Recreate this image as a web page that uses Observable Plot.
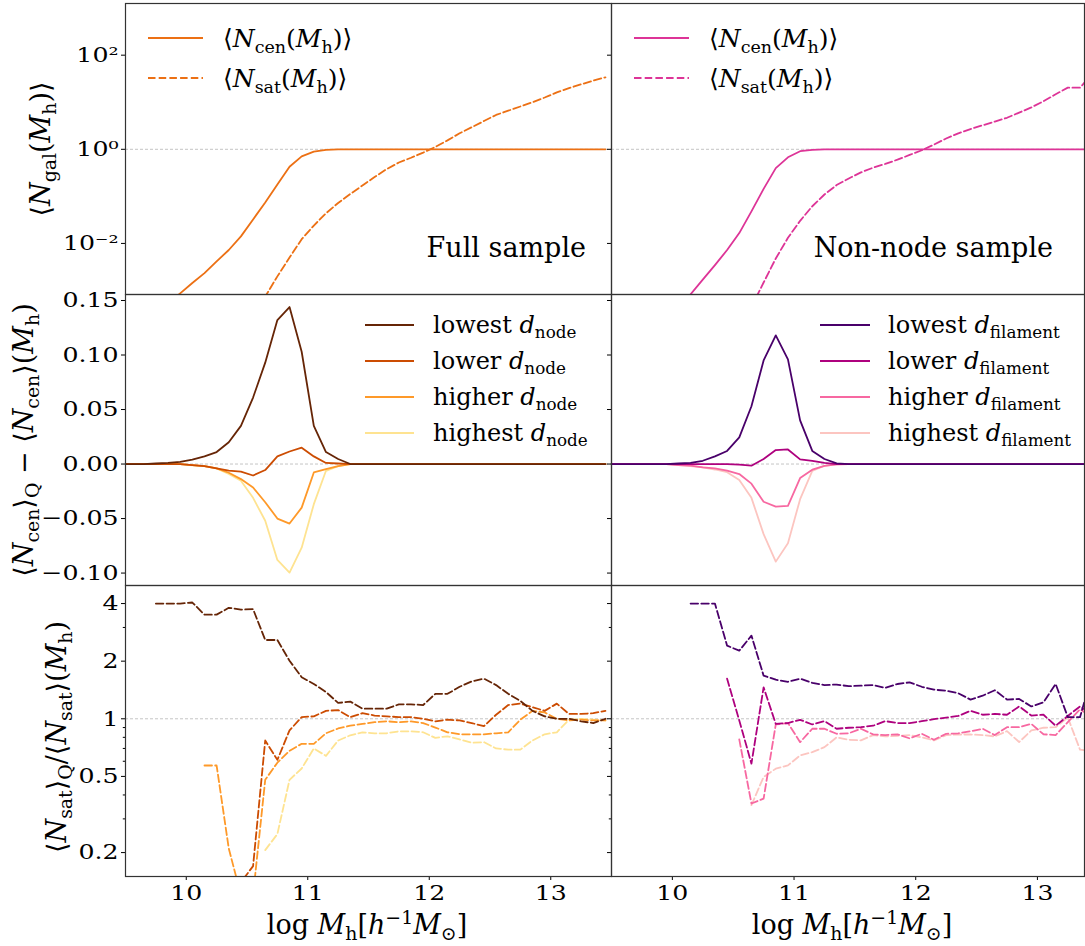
<!DOCTYPE html>
<html><head><meta charset="utf-8">
<script src="https://cdn.jsdelivr.net/npm/d3@7"></script>
<script src="https://cdn.jsdelivr.net/npm/@observablehq/plot@0.6"></script>
<style>
body{margin:0;background:#fff;}
#wrap{position:relative;width:1085px;height:946px;overflow:hidden;background:#fff;}
#wrap svg{position:absolute;overflow:visible;}
</style></head><body><div id="wrap"></div>
<script>
// ---------- data (bin centres of log halo mass) ----------
const mass = [9.45,9.55,9.65,9.75,9.85,9.95,10.05,10.15,10.25,10.35,10.45,10.55,10.65,10.75,10.85,10.95,11.05,11.15,11.25,11.35,11.45,11.55,11.65,11.75,11.85,11.95,12.05,12.15,12.25,12.35,12.45,12.55,12.65,12.75,12.85,12.95,13.05,13.15,13.25,13.35,13.45];

// top row: log10 <N_cen>, log10 <N_sat>
const logNcenFull = [null,null,null,null,-3.28,-3.06,-2.84,-2.63,-2.38,-2.14,-1.85,-1.49,-1.13,-0.75,-0.37,-0.15,-0.05,-0.012,-0.003,0,0,0,0,0,0,0,0,0,0,0,0,0,0,0,0,0,0,0,0,0,0];
const logNsatFull = [null,null,null,null,null,null,null,null,null,null,null,-3.55,-3.13,-2.70,-2.30,-1.91,-1.62,-1.36,-1.14,-0.95,-0.77,-0.59,-0.42,-0.28,-0.18,-0.07,0.05,0.19,0.34,0.47,0.60,0.73,0.82,0.91,1.0,1.1,1.21,1.30,1.38,1.46,1.53];
const logNcenNonNode = [null,null,null,null,null,null,-3.4,-3.08,-2.77,-2.46,-2.14,-1.78,-1.32,-0.84,-0.40,-0.17,-0.04,-0.01,-0.002,0,0,0,0,0,0,0,0,0,0,0,0,0,0,0,0,0,0,0,0,0,0];
const logNsatNonNode = [null,null,null,null,null,null,null,null,null,null,null,null,-3.35,-2.83,-2.32,-1.88,-1.52,-1.21,-0.96,-0.76,-0.62,-0.49,-0.39,-0.31,-0.22,-0.12,-0.02,0.10,0.23,0.34,0.43,0.51,0.59,0.67,0.78,0.89,1.02,1.17,1.31,1.31,1.6];

// middle row: <N_cen>_Q - <N_cen>
const cenNodeLowest  = [0,0,0,0.0005,0.001,0.002,0.004,0.007,0.011,0.02,0.035,0.061,0.093,0.132,0.144,0.103,0.035,0.011,0.0046,0,0,0,0,0,0,0,0,0,0,0,0,0,0,0,0,0,0,0,0,0,0];
const cenNodeLower   = [0,0,0,0,0,0,-0.001,-0.002,-0.004,-0.006,-0.007,-0.0105,-0.0055,0.007,0.0115,0.015,0.007,0.001,0.0005,0,0,0,0,0,0,0,0,0,0,0,0,0,0,0,0,0,0,0,0,0,0];
const cenNodeHigher  = [0,0,0,0,0,0,-0.001,-0.002,-0.004,-0.008,-0.0138,-0.0215,-0.035,-0.050,-0.0546,-0.040,-0.0077,-0.0046,-0.002,0,0,0,0,0,0,0,0,0,0,0,0,0,0,0,0,0,0,0,0,0,0];
const cenNodeHighest = [0,0,0,0,0,0,-0.0012,-0.002,-0.004,-0.009,-0.0153,-0.031,-0.052,-0.088,-0.0996,-0.0767,-0.0368,-0.0062,-0.002,0,0,0,0,0,0,0,0,0,0,0,0,0,0,0,0,0,0,0,0,0,0];
const cenFilLowest   = [0,0,0,0,0,0,0.0005,0.001,0.003,0.007,0.012,0.0245,0.053,0.095,0.118,0.096,0.040,0.012,0.0046,0.0006,0,0,0,0,0,0,0,0,0,0,0,0,0,0,0,0,0,0,0,0,0];
const cenFilLower    = [0,0,0,0,0,0,0,0,0,0,0,-0.0005,-0.0015,0.0046,0.0128,0.0134,0.0043,0.003,0.001,0,0,0,0,0,0,0,0,0,0,0,0,0,0,0,0,0,0,0,0,0,0];
const cenFilHigher   = [0,0,0,0,0,0,-0.001,-0.0015,-0.003,-0.004,-0.006,-0.0092,-0.018,-0.0346,-0.039,-0.0383,-0.0129,-0.0052,-0.0016,-0.0003,0,0,0,0,0,0,0,0,0,0,0,0,0,0,0,0,0,0,0,0,0];
const cenFilHighest  = [0,0,0,0,0,0,-0.001,-0.002,-0.003,-0.005,-0.0075,-0.0147,-0.031,-0.0643,-0.0895,-0.0726,-0.0322,-0.0062,-0.0016,-0.0003,0,0,0,0,0,0,0,0,0,0,0,0,0,0,0,0,0,0,0,0,0];

// bottom row: <N_sat>_Q / <N_sat>
const satNodeLowest  = [null,null,null,4.0,4.0,4.0,4.05,3.5,3.5,3.8,3.72,3.74,2.58,2.58,2.01,1.65,1.52,1.38,1.21,1.23,1.13,1.13,1.13,1.19,1.19,1.18,1.35,1.35,1.47,1.57,1.62,1.5,1.35,1.24,1.10,1.03,1.0,1.0,0.97,0.95,1.0];
const satNodeLower   = [null,null,null,null,null,null,null,null,null,0.09,0.14,0.17,0.77,0.61,0.87,1.02,1.03,1.10,1.11,1.02,1.07,1.04,1.03,1.02,1.02,1.0,0.97,0.99,0.98,0.95,0.915,1.05,1.18,1.2,1.15,1.1,1.2,1.06,1.06,1.07,1.1];
const satNodeHigher  = [null,null,null,null,null,null,null,0.57,0.57,0.21,0.12,0.12,0.48,0.59,0.68,0.74,0.74,0.84,0.89,0.92,0.94,0.96,0.97,0.96,0.97,0.95,0.9,0.85,0.83,0.83,0.83,0.84,0.85,0.99,1.1,1.08,1.0,0.98,0.99,0.98,0.98];
const satNodeHighest = [null,null,null,null,null,null,null,null,null,null,null,null,0.206,0.25,0.48,0.55,0.70,0.64,0.77,0.82,0.85,0.84,0.84,0.86,0.86,0.85,0.795,0.81,0.78,0.75,0.755,0.70,0.69,0.69,0.77,0.83,0.85,0.99,1.0,0.99,0.98];
const satFilLowest   = [null,null,null,null,null,null,null,4.0,4.0,4.0,2.41,2.27,2.72,1.68,1.60,1.56,1.62,1.54,1.50,1.51,1.48,1.49,1.50,1.45,1.52,1.55,1.47,1.42,1.40,1.36,1.26,1.32,1.41,1.26,1.27,1.16,1.22,1.52,1.02,1.02,1.7];
const satFilLower    = [null,null,null,null,null,null,null,null,null,null,1.62,0.98,0.583,1.46,0.94,0.95,0.988,0.934,0.972,0.887,0.898,0.904,0.92,0.972,0.95,0.95,0.972,0.996,1.015,1.035,1.10,1.05,1.06,1.05,1.16,1.04,1.05,0.92,1.035,1.16,1.05];
const satFilHigher   = [null,null,null,null,null,null,null,null,null,null,null,0.78,0.361,0.383,0.934,0.95,0.755,0.887,0.887,0.835,0.84,0.887,0.829,0.822,0.83,0.79,0.835,0.777,0.835,0.84,0.86,0.887,0.822,0.904,0.904,0.94,0.83,0.822,0.96,1.12,1.02];
const satFilHighest  = [null,null,null,null,null,null,null,null,null,null,null,null,0.354,0.497,0.549,0.571,0.644,0.67,0.711,0.80,0.777,0.771,0.822,0.809,0.815,0.822,0.80,0.771,0.822,0.828,0.828,0.822,0.809,0.862,0.756,0.869,0.898,0.904,1.015,0.69,0.68];

const quartiles = ["lowest", "lower", "higher", "highest"];
const nodeColors = ["#662506", "#cc4c02", "#fe9929", "#fee391"];
const filColors  = ["#49006a", "#ae017e", "#f768a1", "#fcc5c0"];
const fullColor = "#ec7014", nonNodeColor = "#dd3497";

const xTickValues = [10, 11, 12, 13];
const xTickLabels = ["10", "11", "12", "13"];
const topTicks = [0.01, 1, 100];
const topTickLabels = ["10\u207B\u00B2", "10\u2070", "10\u00B2"];
const midTicks = [-0.10, -0.05, 0, 0.05, 0.10, 0.15];
const botTicks = [0.2, 0.5, 1, 2, 4];
const botTickLabels = ["0.2", "0.5", "1", "2", "4"];
const botMinor = [0.3, 0.4, 0.6, 0.7, 0.8, 0.9, 3];

// ---------- layout ----------
const FONT = "DejaVu Serif";
const wrap = document.getElementById("wrap");
const colL = [125, 611], colR = [611, 1084];
const rowY = [[3, 294], [294, 585], [585, 876]];
const xDomL = [9.5, 13.5], xDomR = [9.5, 13.387];
const DASH = "7.5,3.2";
const TICKFS = 21;
const TICK_STRETCH = 1.2;

function toRows(ys, fn = v => v) {
  const out = [];
  mass.forEach((x, i) => { if (ys[i] != null) out.push({x, y: fn(ys[i])}); });
  return out;
}
function line(ys, color, dashed, fn) {
  return Plot.line(toRows(ys, fn), {x: "x", y: "y", stroke: color, strokeWidth: 1.8,
    strokeDasharray: dashed ? DASH : null, clip: true});
}
function panel(col, row, xDomain, yScale, marks) {
  const [x0, x1] = col, [y0, y1] = row;
  const ml = 120, mr = 10, mt = 10, mb = 50;
  const svg = Plot.plot({
    width: x1 - x0 + ml + mr, height: y1 - y0 + mt + mb,
    marginLeft: ml, marginRight: mr, marginTop: mt, marginBottom: mb,
    x: {domain: xDomain},
    y: yScale,
    style: {fontFamily: FONT, fontSize: TICKFS + "px", color: "#000", background: "transparent", overflow: "visible"},
    marks: [...marks, Plot.frame({stroke: "#333", strokeWidth: 1.2})]
  });
  svg.style.position = "absolute";
  svg.style.left = (x0 - ml) + "px";
  svg.style.top = (y0 - mt) + "px";
  svg.style.maxWidth = "none";
  wrap.appendChild(svg);
  // widen tick-label glyphs horizontally (textLength keeps the anchor position)
  svg.querySelectorAll('g[aria-label="y-axis tick label"] text, g[aria-label="x-axis tick label"] text').forEach(t => {
    try {
      const L = t.getComputedTextLength();
      if (L > 0) {
        t.setAttribute("textLength", (L * TICK_STRETCH).toFixed(2));
        t.setAttribute("lengthAdjust", "spacingAndGlyphs");
      }
    } catch (e) {}
  });
}
const refRule = v => Plot.ruleY([v], {stroke: "#b5b5b5", strokeWidth: 0.8, strokeDasharray: "3,2"});
const noX = Plot.axisX({ticks: [], tickSize: 0, label: null, tickFormat: () => ""});
const xAxis = Plot.axisX({ticks: xTickValues, tickSize: 4, tickPadding: 5, label: null, fontSize: TICKFS,
  tickFormat: d => xTickLabels[xTickValues.indexOf(d)]});
function yAxis(ticks, labels, showLabels) {
  return Plot.axisY({ticks, tickSize: 4, tickPadding: 3, label: null, fontSize: TICKFS,
    tickFormat: showLabels ? (d => labels(d)) : (() => "")});
}
const topFmt = d => topTickLabels[topTicks.indexOf(d)];
const midFmt = d => (d < 0 ? "\u2212" : "") + Math.abs(d).toFixed(2);
const botFmt = d => botTickLabels[botTicks.indexOf(d)];
const topY = {type: "log", domain: [Math.pow(10, -3.085), Math.pow(10, 3.098)]};
const midY = {domain: [-0.1114, 0.1555]};
const botY = {type: "log", domain: [0.15, 4.97]};
const tenPow = v => Math.pow(10, v);

// top row
panel(colL, rowY[0], xDomL, topY, [refRule(1), line(logNcenFull, fullColor, false, tenPow), line(logNsatFull, fullColor, true, tenPow), noX, yAxis(topTicks, topFmt, true)]);
panel(colR, rowY[0], xDomR, topY, [refRule(1), line(logNcenNonNode, nonNodeColor, false, tenPow), line(logNsatNonNode, nonNodeColor, true, tenPow), noX, yAxis(topTicks, topFmt, false)]);
// middle row
const cenNode = [cenNodeLowest, cenNodeLower, cenNodeHigher, cenNodeHighest];
const cenFil = [cenFilLowest, cenFilLower, cenFilHigher, cenFilHighest];
panel(colL, rowY[1], xDomL, midY, [refRule(0), ...cenNode.map((s, i) => line(s, nodeColors[i], false)).reverse(), noX, yAxis(midTicks, midFmt, true)]);
panel(colR, rowY[1], xDomR, midY, [refRule(0), ...cenFil.map((s, i) => line(s, filColors[i], false)).reverse(), noX, yAxis(midTicks, midFmt, false)]);
// bottom row
const satNode = [satNodeLowest, satNodeLower, satNodeHigher, satNodeHighest];
const satFil = [satFilLowest, satFilLower, satFilHigher, satFilHighest];
const minorAx = Plot.axisY({ticks: botMinor, tickSize: 2.2, label: null, tickFormat: () => ""});
panel(colL, rowY[2], xDomL, botY, [refRule(1), ...satNode.map((s, i) => line(s, nodeColors[i], true)).reverse(), xAxis, yAxis(botTicks, botFmt, true), minorAx]);
panel(colR, rowY[2], xDomR, botY, [refRule(1), ...satFil.map((s, i) => line(s, filColors[i], true)).reverse(), xAxis, yAxis(botTicks, botFmt, false), minorAx]);

// ---------- text overlay (labels, legends) ----------
const ov = d3.select(wrap).append("svg").attr("width", 1085).attr("height", 946)
  .style("left", "0px").style("top", "0px").style("pointer-events", "none");
function mtext(x, y, segs, {size = 24, anchor = "start", rotate = 0} = {}) {
  const t = ov.append("text").attr("font-family", FONT).attr("font-size", size)
    .attr("text-anchor", anchor).attr("fill", "#000")
    .attr("transform", `translate(${x},${y}) rotate(${rotate})`);
  let shift = 0;
  for (const [s, k] of segs) {
    const ts = t.append("tspan").text(s);
    let target = 0, fs = size;
    if (k.startsWith("sub")) { target = 0.22 * size; fs = 0.7 * size; }
    if (k.startsWith("sup")) { target = -0.36 * size; fs = 0.7 * size; }
    if (k === "i" || k.endsWith("i")) ts.attr("font-style", "italic");
    ts.attr("font-size", fs);
    const dy = target - shift;
    if (dy) ts.attr("dy", dy);
    shift = target;
  }
  return t;
}
function swatch(x0, x1, y, color, dashed) {
  ov.append("line").attr("x1", x0).attr("x2", x1).attr("y1", y).attr("y2", y)
    .attr("stroke", color).attr("stroke-width", 1.8).attr("stroke-dasharray", dashed ? DASH : null);
}
const cenSeg = [["\u27E8", "r"], ["N", "i"], ["cen", "sub"], ["(", "r"], ["M", "i"], ["h", "sub"], [")\u27E9", "r"]];
const satSeg = [["\u27E8", "r"], ["N", "i"], ["sat", "sub"], ["(", "r"], ["M", "i"], ["h", "sub"], [")\u27E9", "r"]];
// top legends
swatch(148, 203, 38, fullColor, false); mtext(223, 47, cenSeg, {size: 25});
swatch(148, 203, 78, fullColor, true);  mtext(223, 87, satSeg, {size: 25});
swatch(634, 689, 38, nonNodeColor, false); mtext(709, 47, cenSeg, {size: 25});
swatch(634, 689, 78, nonNodeColor, true);  mtext(709, 87, satSeg, {size: 25});
mtext(586, 257, [["Full sample", "r"]], {size: 27, anchor: "end"});
mtext(1053, 257, [["Non-node sample", "r"]], {size: 27, anchor: "end"});
// middle legends
const legY = [325, 361, 397, 433];
quartiles.forEach((q, i) => {
  swatch(365, 414, legY[i], nodeColors[i], false);
  mtext(433, legY[i] + 8, [[q + " ", "r"], ["d", "i"], ["node", "sub"]], {size: 24});
  swatch(820, 870, legY[i], filColors[i], false);
  mtext(888, legY[i] + 8, [[q + " ", "r"], ["d", "i"], ["filament", "sub"]], {size: 24});
});
// y labels
mtext(50, 149, [["\u27E8", "r"], ["N", "i"], ["gal", "sub"], ["(", "r"], ["M", "i"], ["h", "sub"], [")\u27E9", "r"]], {size: 27, anchor: "middle", rotate: -90});
mtext(33, 440, [["\u27E8", "r"], ["N", "i"], ["cen", "sub"], ["\u27E9", "r"], ["Q", "sub"], [" \u2212 \u27E8", "r"], ["N", "i"], ["cen", "sub"], ["\u27E9(", "r"], ["M", "i"], ["h", "sub"], [")", "r"]], {size: 27, anchor: "middle", rotate: -90});
mtext(66, 737, [["\u27E8", "r"], ["N", "i"], ["sat", "sub"], ["\u27E9", "r"], ["Q", "sub"], ["/\u27E8", "r"], ["N", "i"], ["sat", "sub"], ["\u27E9(", "r"], ["M", "i"], ["h", "sub"], [")", "r"]], {size: 27, anchor: "middle", rotate: -90});
// x labels
const xlab = [["log ", "r"], ["M", "i"], ["h", "sub"], ["[", "r"], ["h", "i"], ["\u22121", "sup"], ["M", "i"], ["\u2299", "sub"], ["]", "r"]];
mtext(367, 934, xlab, {size: 27, anchor: "middle"});
mtext(852, 934, xlab, {size: 27, anchor: "middle"});
</script></body></html>
